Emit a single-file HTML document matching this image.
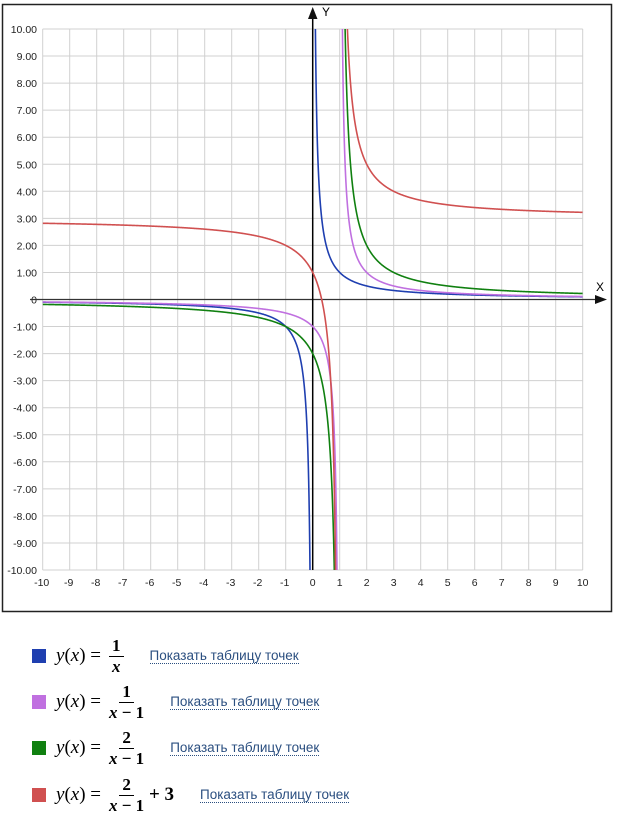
<!DOCTYPE html>
<html><head><meta charset="utf-8"><style>
body{margin:0;background:#fff;width:621px;height:837px;overflow:hidden;font-family:"Liberation Sans",sans-serif;}
.leg{position:absolute;left:32px;height:40px;display:flex;align-items:center;}
.sq{width:14px;height:14px;margin-right:10px;}
.m{font-family:"Liberation Serif",serif;font-size:19px;display:flex;align-items:center;}
.fr{display:inline-flex;flex-direction:column;align-items:center;margin-left:8px;font-style:normal;font-weight:bold;font-size:17px;}
.fr span:first-child{border-bottom:1px solid #000;padding:0 3px;line-height:20px}
.fr span:last-child{line-height:20px}
.lk{color:#2b4f80;font-size:13.5px;border-bottom:1px dotted #2b4f80;margin-left:26px;line-height:15px}
</style></head><body>
<svg width="621" height="620" style="position:absolute;left:0;top:0" id="s">
<rect x="2.5" y="4.5" width="609" height="607" fill="#fff" stroke="#222" stroke-width="1.5"/>
<defs><clipPath id="c"><rect x="42.7" y="29" width="540" height="541"/></clipPath></defs>
<g id="g"></g>
</svg>
<div class="leg" style="top:636px"><div class="sq" style="background:#1f3fb0"></div><div class="m"><i>y</i>(<i>x</i>) = <span class="fr"><span>1</span><span><i>x</i></span></span></div><span class="lk">Показать таблицу точек</span></div>
<div class="leg" style="top:682px"><div class="sq" style="background:#c070e0"></div><div class="m"><i>y</i>(<i>x</i>) = <span class="fr"><span>1</span><span><i>x</i> − 1</span></span></div><span class="lk">Показать таблицу точек</span></div>
<div class="leg" style="top:728px"><div class="sq" style="background:#108010"></div><div class="m"><i>y</i>(<i>x</i>) = <span class="fr"><span>2</span><span><i>x</i> − 1</span></span></div><span class="lk">Показать таблицу точек</span></div>
<div class="leg" style="top:775px"><div class="sq" style="background:#d05050"></div><div class="m"><i>y</i>(<i>x</i>) = <span class="fr"><span>2</span><span><i>x</i> − 1</span></span>&nbsp;<b>+ 3</b></div><span class="lk">Показать таблицу точек</span></div>
<script>
var g=document.getElementById('g'),s='';
function X(x){return 312.7+x*27}function Y(y){return 299.5-y*27.05}
for(var i=-10;i<=10;i++){
s+='<line x1="'+X(i)+'" y1="29" x2="'+X(i)+'" y2="570" stroke="#d0d0d0"/>';
s+='<line x1="42.7" y1="'+Y(i)+'" x2="582.7" y2="'+Y(i)+'" stroke="#d0d0d0"/>';
s+='<text x="37" y="'+(Y(i)+4)+'" font-size="10.5" text-anchor="end" fill="#222">'+(i==0?'0':i.toFixed(2))+'</text>';
s+='<text x="'+(X(i)-(i<0?1:0))+'" y="586" font-size="10.5" text-anchor="middle" fill="#222">'+i+'</text>';
}
s+='<line x1="30" y1="299.5" x2="600" y2="299.5" stroke="#333" stroke-width="1.3"/><polygon points="607,299.5 595,295 595,304" fill="#111"/>';
s+='<line x1="312.7" y1="14" x2="312.7" y2="570" stroke="#000" stroke-width="1.5"/><polygon points="312.7,7 308,19 317.5,19" fill="#111"/>';
s+='<text x="596" y="291" font-size="12">X</text><text x="322" y="16" font-size="12">Y</text>';
function curve(f,a,b,col){var p='';for(var k=0;k<=800;k++){var x=a+(b-a)*k/800;var y=f(x);if(y>14)y=14;if(y<-14)y=-14;p+=(k?'L':'M')+X(x).toFixed(2)+' '+Y(y).toFixed(2);}
return '<path d="'+p+'" fill="none" stroke="'+col+'" stroke-width="1.6" clip-path="url(#c)"/>';}
function both(f,pole,col){return curve(f,-10,pole-0.05,col)+curve(f,pole+0.05,10,col);}
s+=both(function(x){return 1/x},0,'#1f3fb0');
s+=both(function(x){return 1/(x-1)},1,'#c070e0');
s+=both(function(x){return 2/(x-1)},1,'#108010');
s+=both(function(x){return 2/(x-1)+3},1,'#d05050');
g.innerHTML=s;
</script>
</body></html>
